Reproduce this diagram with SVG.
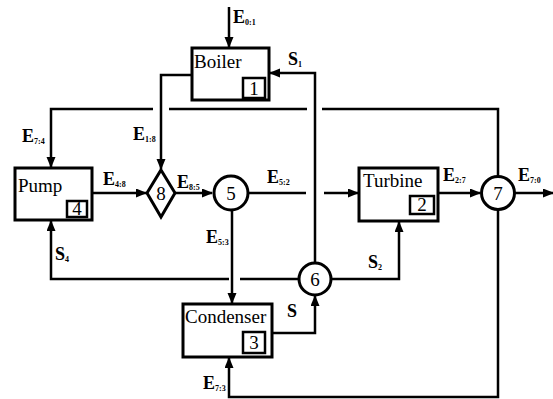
<svg xmlns="http://www.w3.org/2000/svg" width="553" height="399" viewBox="0 0 553 399">
<style>
.box{fill:#fff;stroke:#000;stroke-width:3}
.nb{fill:#fff;stroke:#000;stroke-width:2.5}
.ln{fill:none;stroke:#000;stroke-width:2.5}
text{font-family:'Liberation Serif','DejaVu Serif',serif;fill:#000}
.t{font-size:19px}
.n{font-size:19px;text-anchor:middle}
.l{font-size:18px;font-weight:bold}
.s{font-size:8px;font-weight:bold}
</style>
<defs>
<marker id="a" markerUnits="userSpaceOnUse" markerWidth="11" markerHeight="10" refX="10" refY="4.5" orient="auto">
<path d="M0,0 L11,4.5 L0,9 z" fill="#000"/>
</marker>
</defs>
<rect width="553" height="399" fill="#fff"/>
<g id="connectors">
<path class="ln" d="M229,7 V47" marker-end="url(#a)"/>
<path class="ln" d="M192,75 H161 V169" marker-end="url(#a)"/>
<path class="ln" d="M498,176 V109 H322 M307,109 H169 M153,109 H51 V167" marker-end="url(#a)"/>
<path class="ln" d="M92,193 H146" marker-end="url(#a)"/>
<path class="ln" d="M175,193 H212" marker-end="url(#a)"/>
<path class="ln" d="M248,193 H306 M324,193 H358" marker-end="url(#a)"/>
<path class="ln" d="M438,193 H480" marker-end="url(#a)"/>
<path class="ln" d="M515,193 H553" marker-end="url(#a)"/>
<path class="ln" d="M232,210 V303" marker-end="url(#a)"/>
<path class="ln" d="M299,279 H240 M229,279 H51 V221" marker-end="url(#a)"/>
<path class="ln" d="M315,263 V73 H270" marker-end="url(#a)"/>
<path class="ln" d="M331,279 H399 V222" marker-end="url(#a)"/>
<path class="ln" d="M272,333 H315 V296" marker-end="url(#a)"/>
<path class="ln" d="M498,210 V397 H229 V358" marker-end="url(#a)"/>
</g>
<g id="boiler">
<rect class="box" x="192" y="48" width="77" height="52"/>
<text class="t" x="194" y="68" font-family="Liberation Serif, serif">Boiler</text>
<rect class="nb" x="243" y="78" width="22" height="20"/>
<text class="n" x="254" y="95">1</text>
</g>
<g id="turbine">
<rect class="box" x="359" y="168" width="79" height="53"/>
<text class="t" x="363" y="187">Turbine</text>
<rect class="nb" x="410" y="196" width="24" height="18"/>
<text class="n" x="422" y="211">2</text>
</g>
<g id="condenser">
<rect class="box" x="183" y="304" width="89" height="53"/>
<text class="t" x="185" y="323">Condenser</text>
<rect class="nb" x="243" y="332" width="22" height="21"/>
<text class="n" x="254" y="349">3</text>
</g>
<g id="pump">
<rect class="box" x="15" y="168" width="77" height="52"/>
<text class="t" x="18" y="192">Pump</text>
<rect class="nb" x="67" y="201" width="20" height="16"/>
<text class="n" x="77" y="215">4</text>
</g>
<g id="node5">
<circle class="box" cx="231" cy="193" r="17"/>
<text class="n" x="231" y="200">5</text>
</g>
<g id="node6">
<circle class="box" cx="315" cy="279" r="16"/>
<text class="n" x="315" y="286">6</text>
</g>
<g id="node7">
<circle class="box" cx="498" cy="193" r="16.5"/>
<text class="n" x="498" y="200">7</text>
</g>
<g id="node8">
<path class="box" d="M161,170 L175,193 L161,217 L147,193 Z"/>
<text class="n" x="161" y="200">8</text>
</g>
<g id="labels">
<text class="l" x="233" y="23">E<tspan class="s" dy="2">0:1</tspan></text>
<text class="l" x="133" y="140">E<tspan class="s" dy="2">1:8</tspan></text>
<text class="l" x="22" y="142">E<tspan class="s" dy="2">7:4</tspan></text>
<text class="l" x="103" y="185">E<tspan class="s" dy="2">4:8</tspan></text>
<text class="l" x="177" y="188">E<tspan class="s" dy="2">8:5</tspan></text>
<text class="l" x="267" y="183">E<tspan class="s" dy="2">5:2</tspan></text>
<text class="l" x="206" y="243">E<tspan class="s" dy="2">5:3</tspan></text>
<text class="l" x="443" y="181">E<tspan class="s" dy="2">2:7</tspan></text>
<text class="l" x="518" y="181">E<tspan class="s" dy="2">7:0</tspan></text>
<text class="l" x="203" y="389">E<tspan class="s" dy="2">7:3</tspan></text>
<text class="l" x="288" y="65">S<tspan class="s" dy="2">1</tspan></text>
<text class="l" x="55" y="260">S<tspan class="s" dy="2">4</tspan></text>
<text class="l" x="368" y="268">S<tspan class="s" dy="2">2</tspan></text>
<text class="l" x="287" y="317">S</text>
</g>
</svg>
